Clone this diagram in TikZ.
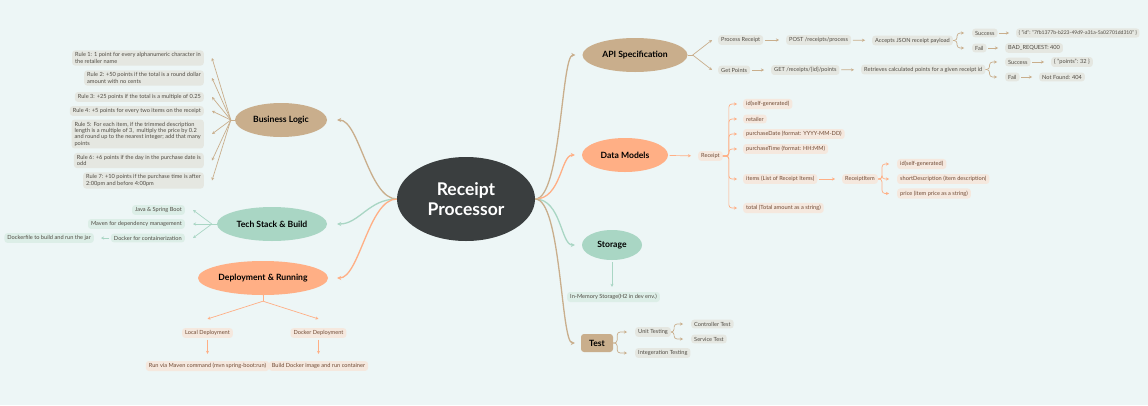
\documentclass[tikz,border=0pt]{standalone}
\usepackage{fontspec}
\setmainfont{Lato}
\usetikzlibrary{shapes.geometric, arrows.meta, positioning}
\definecolor{bgcol}{RGB}{237,246,246}
\definecolor{hubcol}{RGB}{58,62,63}
\definecolor{tancol}{RGB}{201,174,140}
\definecolor{mintcol}{RGB}{169,214,196}
\definecolor{salmoncol}{RGB}{255,175,133}
\definecolor{greybox}{RGB}{229,231,225}
\definecolor{peachbox}{RGB}{245,232,222}
\definecolor{mintbox}{RGB}{220,238,231}
\definecolor{greytext}{RGB}{80,76,68}
\definecolor{browntext}{RGB}{112,74,52}
\tikzset{
    hub/.style={
        ellipse, fill=hubcol, text=white, inner sep=1pt,
        minimum width=138pt, minimum height=84pt, align=center,
        font=\fontsize{17.5}{19.5}\selectfont\bfseries
    },
    topic/.style={
        ellipse, inner sep=1pt, minimum height=34pt, text=black,
        font=\fontsize{8.6}{10}\selectfont\bfseries
    },
    testbox/.style={
        rectangle, rounded corners=3pt, fill=tancol, text=black,
        minimum width=32pt, minimum height=18pt,
        font=\fontsize{8.6}{10}\selectfont\bfseries
    },
    leaf/.style={
        rectangle, rounded corners=3pt, fill=greybox, text=greytext,
        inner xsep=3pt, inner ysep=2.3pt, align=left,
        font=\fontsize{5.65}{6.4}\selectfont
    },
    peachleaf/.style={leaf, fill=peachbox, text=browntext},
    mintleaf/.style={leaf, fill=mintbox},
    tanmain/.style={draw=tancol, line width=1.3pt, -{Stealth[length=4pt,width=4pt]}},
    mintmain/.style={tanmain, draw=mintcol},
    salmonmain/.style={tanmain, draw=salmoncol},
    tanwire/.style={draw=tancol, line width=0.7pt, -{Stealth[length=3pt,width=3pt]}},
    mintwire/.style={tanwire, draw=mintcol},
    salmonwire/.style={tanwire, draw=salmoncol},
    flow/.style={shorten <=1.5pt, shorten >=7pt},
    brace/.style={rounded corners=3pt}
}

\begin{document}
\begin{tikzpicture}[x=1pt, y=-1pt]
\useasboundingbox[fill=bgcol] (0,0) rectangle (1148,405);

% centre
\node[hub] (hub) at (466,199) {Receipt\\Processor};

% left topics
\node[topic, fill=tancol, minimum width=92pt] (bl) at (281,120) {Business Logic};
\node[topic, fill=mintcol, minimum width=110pt] (ts) at (272,224) {Tech Stack \& Build};
\node[topic, fill=salmoncol, minimum width=130pt] (dep) at (263,278) {Deployment \& Running};

% right topics
\node[topic, fill=tancol, minimum width=105pt] (api) at (635,55) {API Specification};
\node[topic, fill=salmoncol, minimum width=86pt] (dm) at (625,155) {Data Models};
\node[topic, fill=mintcol, minimum width=60pt, minimum height=30pt] (stor) at (612,245) {Storage};
\node[testbox] (test) at (597,343) {Test};

\draw[tanmain] (hub.west) .. controls +(-28,0) and +(22,0) .. ([xshift=10pt]bl.east);
\draw[mintmain] (hub.west) .. controls +(-28,0) and +(22,0) .. ([xshift=10pt]ts.east);
\draw[salmonmain] (hub.west) .. controls +(-28,0) and +(22,0) .. ([xshift=9pt]dep.east);
\draw[tanmain] (hub.east) .. controls +(26,0) and +(-14,0) .. ([xshift=-7pt]api.west);
\draw[salmonmain] (hub.east) .. controls +(26,0) and +(-14,0) .. ([xshift=-7pt]dm.west);
\draw[mintmain] (hub.east) .. controls +(26,0) and +(-14,0) .. ([xshift=-7pt]stor.west);
\draw[tanmain] (hub.east) .. controls +(26,0) and +(-14,0) .. ([xshift=-6pt]test.west);

% Business Logic rules
\node[leaf, anchor=east] (r1) at (204,58) {Rule 1: 1 point for every alphanumeric character in\\the retailer name};
\node[leaf, anchor=east] (r2) at (204,78) {Rule 2: +50 points if the total is a round dollar\\amount with no cents};
\node[leaf, anchor=east] (r3) at (204,97) {Rule 3: +25 points if the total is a multiple of 0.25};
\node[leaf, anchor=east] (r4) at (204,111) {Rule 4: +5 points for every two items on the receipt};
\node[leaf, anchor=east] (r5) at (204,134) {Rule 5: For each item, if the trimmed description\\length is a multiple of 3,\ \ multiply the price by 0.2\\and round up to the nearest integer; add that many\\points};
\node[leaf, anchor=east] (r6) at (204,160.5) {Rule 6: +6 points if the day in the purchase date is\\odd};
\node[leaf, anchor=east] (r7) at (204,180.5) {Rule 7: +10 points if the purchase time is after\\2:00pm and before 4:00pm};

\draw[draw=tancol, line width=0.7pt] (bl.west) -- ++(-4,0) coordinate (blfan);
\draw[tanwire] (blfan) -- ([xshift=8pt]r1.east);
\draw[tanwire] (blfan) -- ([xshift=8pt]r2.east);
\draw[tanwire] (blfan) -- ([xshift=8pt]r3.east);
\draw[tanwire] (blfan) -- ([xshift=8pt]r4.east);
\draw[tanwire] (blfan) -- ([xshift=8pt]r5.east);
\draw[tanwire] (blfan) -- ([xshift=8pt]r6.east);
\draw[tanwire] (blfan) -- ([xshift=8pt]r7.east);

% Tech Stack & Build
\node[mintleaf, anchor=east] (java) at (185,210) {Java \& Spring Boot};
\node[mintleaf, anchor=east] (maven) at (185,224) {Maven for dependency management};
\node[mintleaf, anchor=east] (docker) at (185,238) {Docker for containerization};
\node[mintleaf, anchor=east] (dfile) at (94,238) {Dockerfile to build and run the jar};

\draw[draw=mintcol, line width=0.7pt] (ts.west) -- ++(-5,0) coordinate (tsfan);
\draw[mintwire] (tsfan) -- ([xshift=8pt]java.east);
\draw[mintwire] (tsfan) -- ([xshift=8pt]maven.east);
\draw[mintwire] (tsfan) -- ([xshift=8pt]docker.east);
\draw[mintwire, flow] (docker) -- (dfile);

% Deployment & Running
\node[peachleaf] (local) at (207.5,333) {Local Deployment};
\node[peachleaf] (dockdep) at (318.5,333) {Docker Deployment};
\node[peachleaf] (mvnrun) at (207.5,366) {Run via Maven command (mvn spring-boot:run)};
\node[peachleaf] (dockrun) at (318.5,366) {Build Docker image and run container};

\draw[draw=salmoncol, line width=0.7pt] (dep.south) -- ++(0,6) coordinate (depfan);
\draw[salmonwire] (depfan) -- ([yshift=9pt]local.north);
\draw[salmonwire] (depfan) -- ([yshift=9pt]dockdep.north);
\draw[salmonwire, flow] (local) -- (mvnrun);
\draw[salmonwire, flow] (dockdep) -- (dockrun);

% API Specification
\node[leaf, anchor=west] (proc) at (718,40) {Process Receipt};
\node[leaf, anchor=west] (post) at (786,40) {POST /receipts/process};
\node[leaf, anchor=west] (accept) at (872,40.5) {Accepts JSON receipt payload};
\node[leaf, anchor=west] (ok1) at (972,33) {Success};
\node[leaf, anchor=west, inner xsep=2.5pt, font=\fontsize{5.05}{6.4}\selectfont] (idjson) at (1016,33) {\{ "id": "7fb1377b-b223-49d9-a31a-5a02701dd310" \}};
\node[leaf, anchor=west] (fail1) at (972,48) {Fail};
\node[leaf, anchor=west] (bad) at (1005,48) {BAD\_REQUEST: 400};

\node[leaf, anchor=west] (getp) at (718,70) {Get Points};
\node[leaf, anchor=west] (getu) at (771,70) {GET /receipts/\{id\}/points};
\node[leaf, anchor=west] (retr) at (861,69.5) {Retrieves calculated points for a given receipt id};
\node[leaf, anchor=west] (ok2) at (1005,62) {Success};
\node[leaf, anchor=west] (ptsjson) at (1051,62) {\{ "points": 32 \}};
\node[leaf, anchor=west] (fail2) at (1005,77) {Fail};
\node[leaf, anchor=west] (nf) at (1039,77) {Not Found: 404};

\draw[draw=tancol, line width=0.7pt] (api.east) -- ++(5,0) coordinate (apifan);
\draw[tanwire] (apifan) -- ([xshift=-6pt]proc.west);
\draw[tanwire] (apifan) -- ([xshift=-6pt]getp.west);
\draw[tanwire, flow] (proc) -- (post);
\draw[tanwire, flow] (post) -- (accept);
\draw[tanwire, brace] (accept.east) -- ++(4,0) |- ([xshift=-8pt]ok1.west);
\draw[tanwire, brace] (accept.east) -- ++(4,0) |- ([xshift=-8pt]fail1.west);
\draw[tanwire, flow] (ok1) -- (idjson);
\draw[tanwire, flow] (fail1) -- (bad);
\draw[tanwire, flow] (getp) -- (getu);
\draw[tanwire, flow] (getu) -- (retr);
\draw[tanwire, brace] (retr.east) -- ++(4,0) |- ([xshift=-8pt]ok2.west);
\draw[tanwire, brace] (retr.east) -- ++(4,0) |- ([xshift=-8pt]fail2.west);
\draw[tanwire, flow] (ok2) -- (ptsjson);
\draw[tanwire, flow] (fail2) -- (nf);

% Data Models
\node[peachleaf, anchor=west] (rcpt) at (698,156) {Receipt};
\node[peachleaf, anchor=west] (rid) at (743,104) {id(self-generated)};
\node[peachleaf, anchor=west] (rret) at (743,119) {retailer};
\node[peachleaf, anchor=west] (rdate) at (743,134) {purchaseDate (format: YYYY-MM-DD)};
\node[peachleaf, anchor=west] (rtime) at (743,149) {purchaseTime (format: HH:MM)};
\node[peachleaf, anchor=west] (ritems) at (743,179) {items (List of Receipt Items)};
\node[peachleaf, anchor=west] (rtotal) at (743,208) {total (Total amount as a string)};
\node[peachleaf, anchor=west] (item) at (842,179) {ReceiptItem};
\node[peachleaf, anchor=west] (iid) at (897,164) {id(self-generated)};
\node[peachleaf, anchor=west] (idesc) at (897,179) {shortDescription (item description)};
\node[peachleaf, anchor=west] (iprice) at (897,193.5) {price (item price as a string)};

\draw[salmonwire, flow] (dm) -- (rcpt);
\draw[salmonwire, brace] (rcpt.east) -- ++(6,0) |- ([xshift=-6pt]rid.west);
\draw[salmonwire, brace] (rcpt.east) -- ++(6,0) |- ([xshift=-6pt]rret.west);
\draw[salmonwire, brace] (rcpt.east) -- ++(6,0) |- ([xshift=-6pt]rdate.west);
\draw[salmonwire, brace] (rcpt.east) -- ++(6,0) |- ([xshift=-6pt]rtime.west);
\draw[salmonwire, brace] (rcpt.east) -- ++(6,0) |- ([xshift=-6pt]ritems.west);
\draw[salmonwire, brace] (rcpt.east) -- ++(6,0) |- ([xshift=-6pt]rtotal.west);
\draw[salmonwire, flow] (ritems) -- (item);
\draw[salmonwire, brace] (item.east) -- ++(4,0) |- ([xshift=-8pt]iid.west);
\draw[salmonwire, brace] (item.east) -- ++(4,0) |- ([xshift=-8pt]idesc.west);
\draw[salmonwire, brace] (item.east) -- ++(4,0) |- ([xshift=-8pt]iprice.west);

% Storage
\node[mintleaf, anchor=west] (mem) at (567,297) {In-Memory Storage(H2 in dev env.)};
\draw[mintwire, shorten <=2pt, shorten >=5pt] (stor) -- (stor |- mem.north);

% Test
\node[leaf, anchor=west] (unit) at (635,332) {Unit Testing};
\node[leaf, anchor=west] (integ) at (635,353) {Integeration Testing};
\node[leaf, anchor=west] (ctrl) at (691,324) {Controller Test};
\node[leaf, anchor=west] (serv) at (691,339) {Service Test};

\draw[tanwire, brace] (test.east) -- ++(4,0) |- ([xshift=-8pt]unit.west);
\draw[tanwire, brace] (test.east) -- ++(4,0) |- ([xshift=-8pt]integ.west);
\draw[tanwire, brace] (unit.east) -- ++(3,0) |- ([xshift=-8pt]ctrl.west);
\draw[tanwire, brace] (unit.east) -- ++(3,0) |- ([xshift=-8pt]serv.west);

\end{tikzpicture}
\end{document}
